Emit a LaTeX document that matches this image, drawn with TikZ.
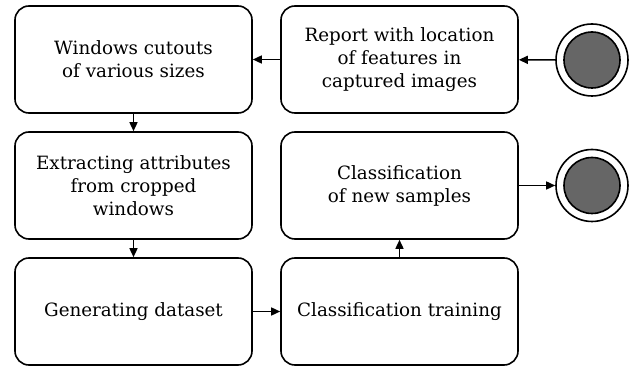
\documentclass[tikz,border=0pt]{standalone}
\usepackage{fontspec}
\setmainfont{DejaVu Serif}
\usetikzlibrary{arrows.meta}
\definecolor{discgray}{HTML}{666666}
\tikzset{
  stepbox/.style={draw, line width=1.6pt, rounded corners=14pt, minimum width=237pt, minimum height=107pt, align=center, inner sep=0pt, font=\fontsize{18.3pt}{23pt}\selectfont},
  outerring/.style={draw, circle, line width=1.6pt, minimum size=72pt, inner sep=0pt},
  innerdisc/.style={draw, circle, line width=1.6pt, fill=discgray, minimum size=56pt, inner sep=0pt},
  flow/.style={line width=1.5pt, -{Triangle[length=9pt,width=8pt]}}
}
\begin{document}
\begin{tikzpicture}[x=1pt,y=-1pt]
\useasboundingbox (0,0) rectangle (635,371);
\node[stepbox] (win) at (133.5,59.5) {Windows cutouts\\of various sizes};
\node[stepbox] (rep) at (399.5,59.5) {Report with location\\of features in\\captured images};
\node[stepbox] (ext) at (133.5,185.5) {Extracting attributes\\from cropped\\windows};
\node[stepbox] (cls) at (399.5,185.5) {Classification\\of new samples};
\node[stepbox] (gen) at (133.5,311.5) {Generating dataset};
\node[stepbox] (trn) at (399.5,311.5) {Classification training};
\node[outerring] (s1) at (592,60) {};
\node[innerdisc] (s1i) at (592,60) {};
\node[outerring] (s2) at (592,185.5) {};
\node[innerdisc] (s2i) at (592,185.5) {};
\draw[flow] (s1) -- (rep);
\draw[flow] (rep) -- (win);
\draw[flow] (win) -- (ext);
\draw[flow] (ext) -- (gen);
\draw[flow] (gen) -- (trn);
\draw[flow] (trn) -- (cls);
\draw[flow] (cls) -- (s2);
\end{tikzpicture}
\end{document}
